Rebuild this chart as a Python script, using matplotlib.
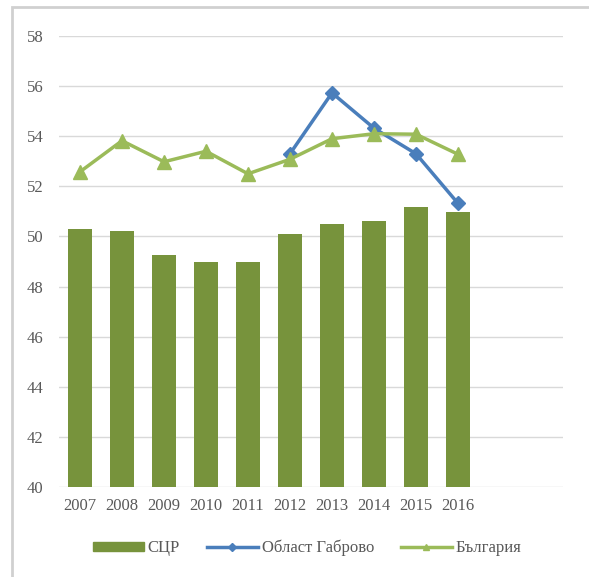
import matplotlib.pyplot as plt
import numpy as np
from matplotlib.patches import Rectangle, Patch
from matplotlib.lines import Line2D

# Данни
years = ['2007', '2008', '2009', '2010', '2011', '2012', '2013', '2014', '2015', '2016']
scr = [50.3, 50.2, 49.27, 48.97, 48.98, 50.08, 50.5, 50.6, 51.16, 50.96]
gabrovo_years = ['2012', '2013', '2014', '2015', '2016']
gabrovo = [53.3, 55.73, 54.32, 53.3, 51.32]
bulgaria = [52.58, 53.82, 52.98, 53.4, 52.5, 53.08, 53.9, 54.1, 54.08, 53.28]
labels = ['СЦР', 'Област Габрово', 'България']

plt.rcParams['font.family'] = ['Liberation Serif', 'DejaVu Serif']

fig = plt.figure(figsize=(5.89, 5.77), dpi=100)
ax = fig.add_axes([59 / 589, 1 - 487 / 577, (563 - 59) / 589, (487 - 36) / 577])

# рамка около диаграмата
fig.patches.append(Rectangle((12 / 589, -0.1), 1.2, 1 - 7 / 577 + 0.1,
                             transform=fig.transFigure, fill=False,
                             edgecolor='#D0D0D0', linewidth=2))

x = np.arange(len(years))
gx = np.array([years.index(y) for y in gabrovo_years])

ax.bar(x, [v - 40 for v in scr], bottom=40, width=0.58, color='#77933C', zorder=2)
ax.plot(gx, gabrovo, color='#4A7EBB', linewidth=2.5, marker='D', markersize=7, zorder=3)
ax.plot(x, bulgaria, color='#9BBB59', linewidth=2.5, marker='^', markersize=10, zorder=4)

ax.set_xlim(-0.5, 11.5)
ax.set_ylim(40, 58)
ax.set_yticks(np.arange(40, 59, 2))
ax.set_xticks(x)
ax.set_xticklabels(years)
ax.tick_params(length=0, labelsize=12, labelcolor='#595959')
ax.tick_params(axis='y', pad=11)
ax.tick_params(axis='x', pad=8)
ax.grid(axis='y', color='#D9D9D9', linewidth=1, zorder=0)
ax.set_axisbelow(True)
for s in ax.spines.values():
    s.set_visible(False)

leg_handles = [Patch(color='#77933C'),
               Line2D([], [], color='#4A7EBB', linewidth=2.5, marker='D', markersize=4),
               Line2D([], [], color='#9BBB59', linewidth=2.5, marker='^', markersize=5)]
fig.legend(leg_handles, labels, loc='center', bbox_to_anchor=(307 / 589, 1 - 548 / 577),
           ncol=3, frameon=False, fontsize=12, handlelength=3.1, handleheight=0.5,
           columnspacing=1.6, handletextpad=0.2, labelcolor='#595959')

plt.savefig('out.png', dpi=100)
